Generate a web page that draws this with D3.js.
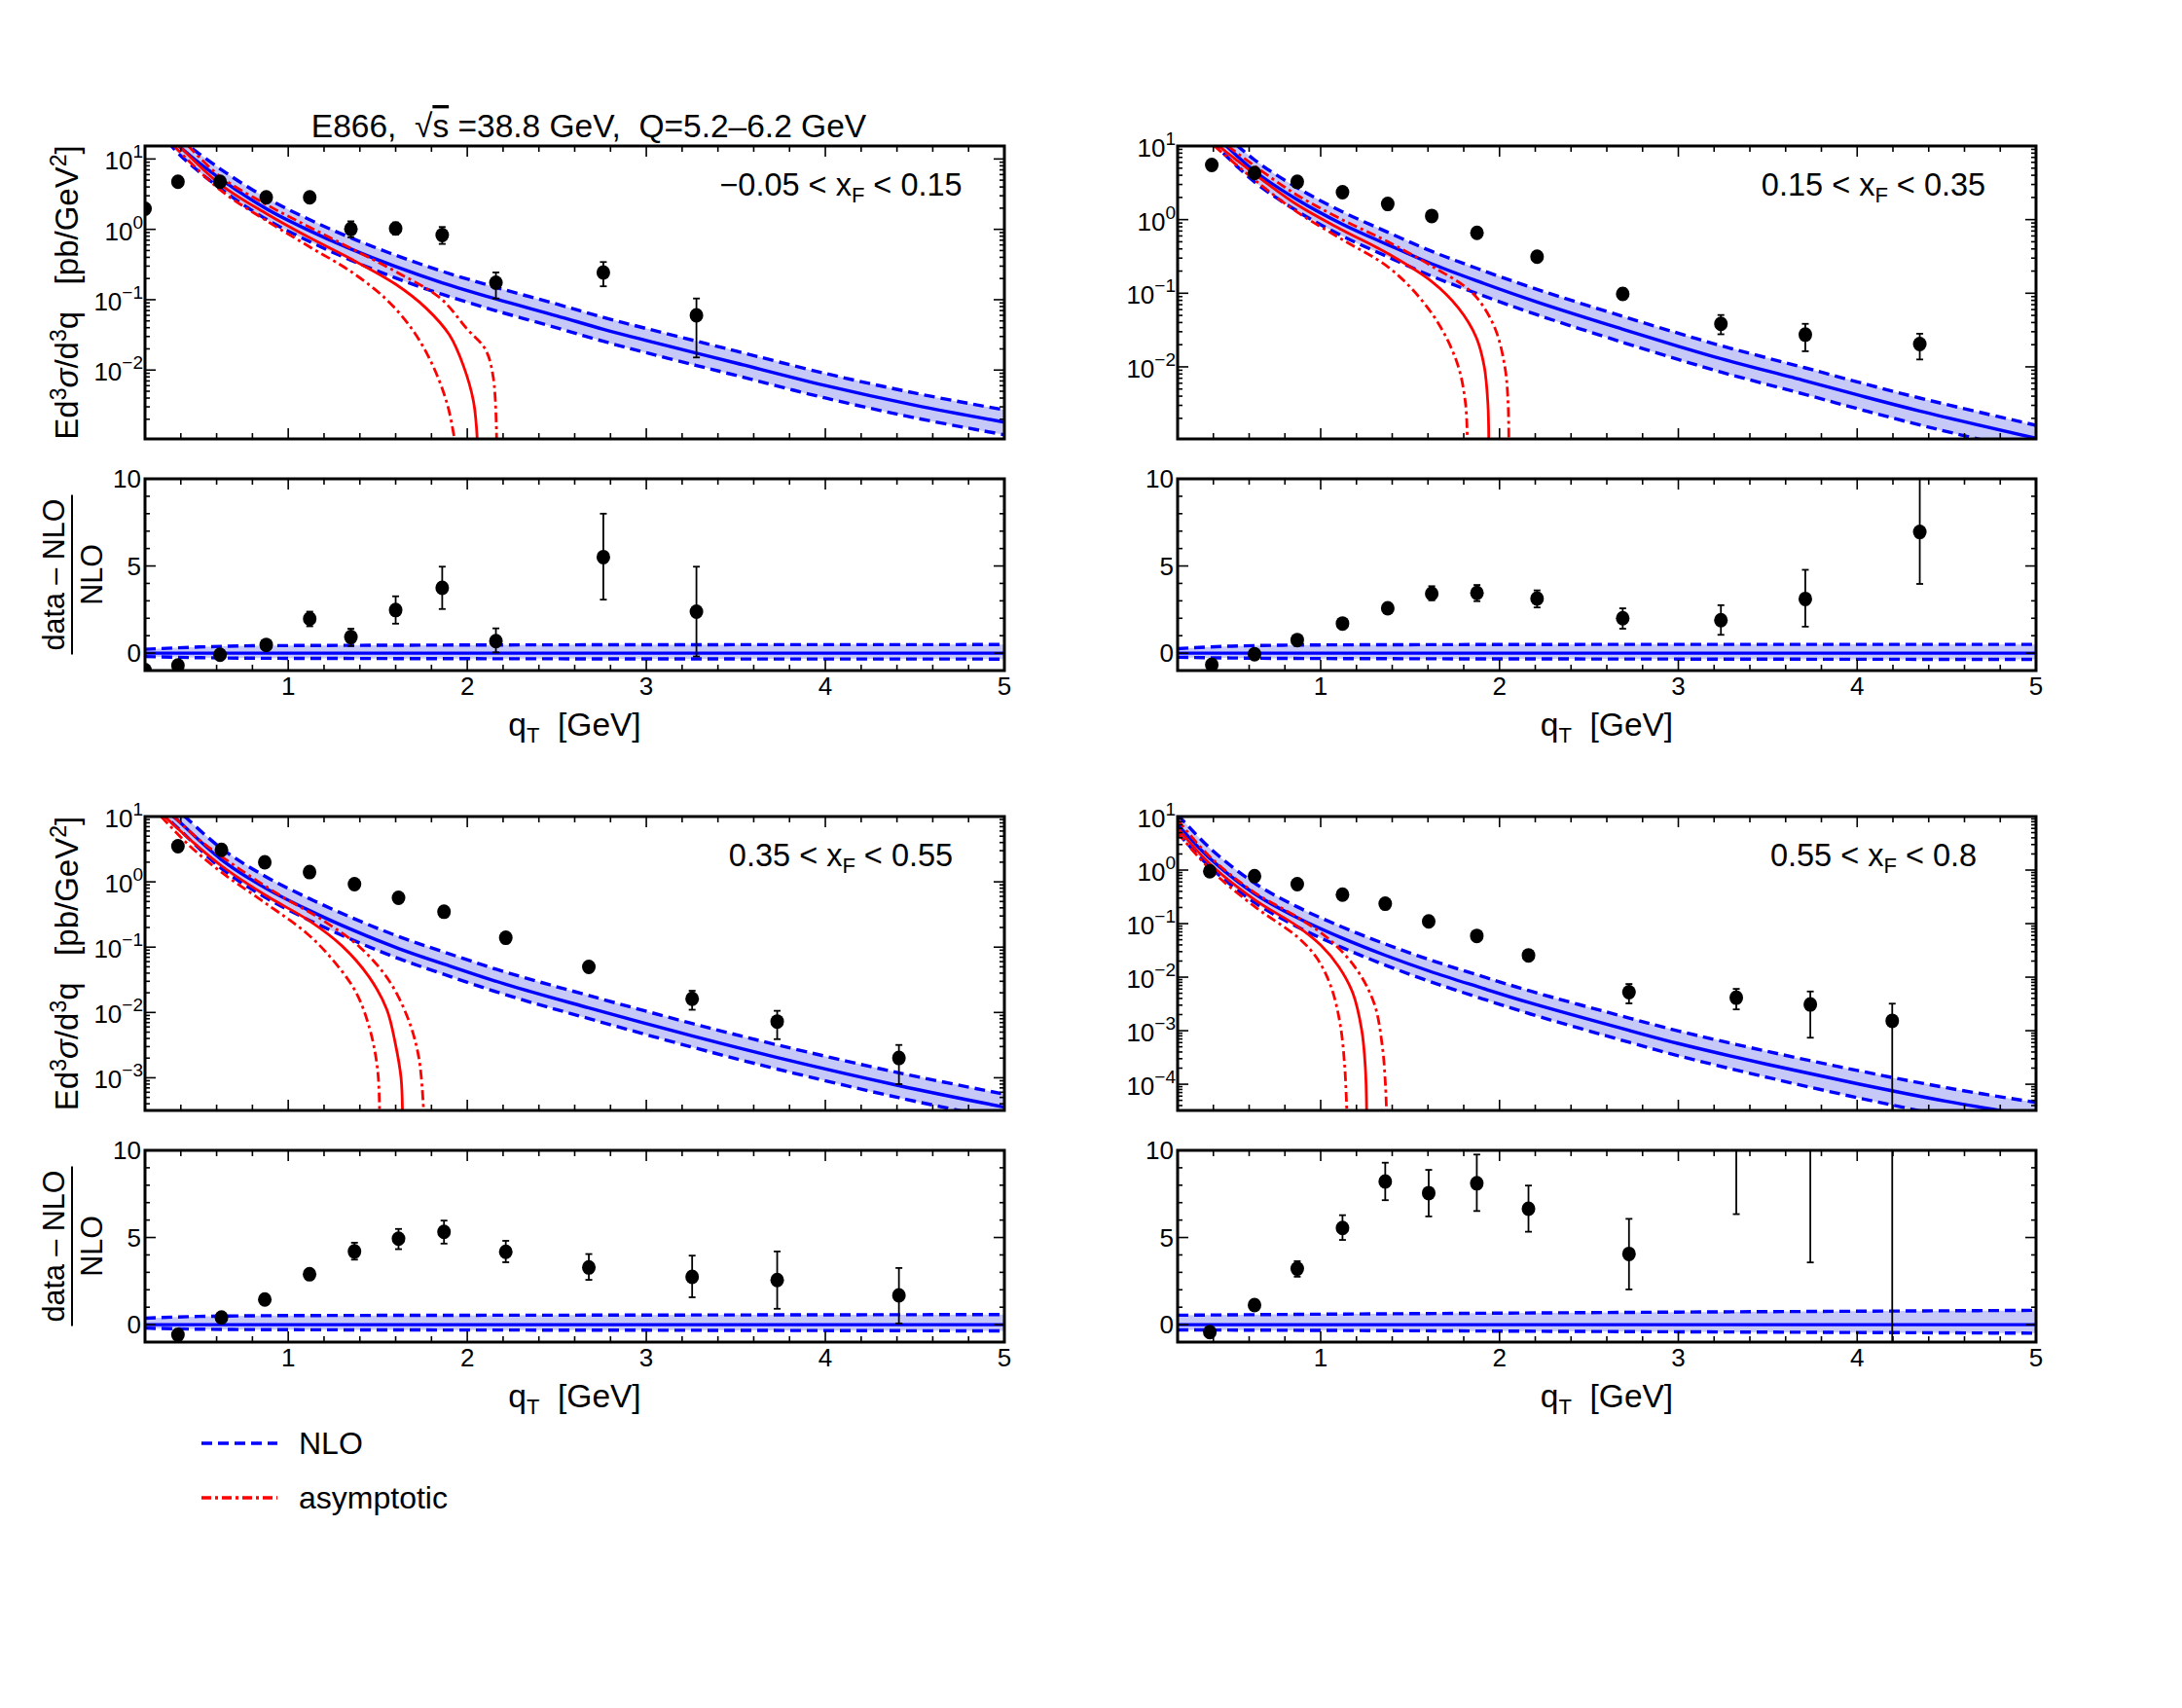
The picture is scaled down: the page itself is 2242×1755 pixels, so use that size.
<!DOCTYPE html>
<html>
<head>
<meta charset="utf-8">
<script src="https://cdn.jsdelivr.net/npm/d3@7"></script>
<style>
  body { margin: 0; background: #fff; }
  text { white-space: pre; }
</style>
</head>
<body>
<svg id="chart"></svg>
<script>
const width = 2242
const height = 1755

const qtDomain = [0.2, 5]
const ratioDomain = [-1, 10]
const ratioMajor = [0, 5, 10]

// ---------- -0.05 < xF < 0.15
const tlQt = [0.2, 0.384, 0.619, 0.877, 1.12, 1.35, 1.60, 1.86, 2.16, 2.76, 3.28]
const tlSigma = [1.96, 4.74, 4.74, 2.85, 2.85, 1.01, 1.03, 0.83, 0.174, 0.244, 0.060]
const tlSigmaLo = [1.85, 4.5, 4.5, 2.7, 2.7, 0.77, 0.84, 0.62, 0.104, 0.155, 0.0151]
const tlSigmaHi = [2.07, 5.0, 5.0, 3.0, 3.0, 1.30, 1.25, 1.08, 0.244, 0.343, 0.104]
const tlRatio = [-0.97, -0.71, -0.09, 0.47, 1.97, 0.92, 2.47, 3.75, 0.69, 5.51, 2.38]
const tlRatioLo = [-1.0, -0.75, -0.14, 0.4, 1.54, 0.41, 1.69, 2.53, 0.04, 3.07, -0.19]
const tlRatioHi = [-0.94, -0.67, -0.04, 0.55, 2.38, 1.40, 3.26, 4.96, 1.42, 8.0, 4.96]
const tlNloLog = [[0.33, 1.36], [0.38, 1.21], [0.62, 0.72], [0.88, 0.29], [1.12, -0.02], [1.35, -0.28], [1.6, -0.53], [1.86, -0.76], [2.16, -0.99], [2.5, -1.23], [2.76, -1.42], [3.0, -1.58], [3.28, -1.76], [3.5, -1.9], [4.0, -2.22], [4.5, -2.5], [5.0, -2.74]]
const tlBandQt = [0.2, 0.5, 0.8, 1.5, 3, 5]
const tlBandUp = [0.22, 0.35, 0.42, 0.45, 0.48, 0.49]
const tlBandDn = [-0.2, -0.26, -0.29, -0.31, -0.33, -0.34]
const tlAsymLog = [[0.39, 1.19], [0.62, 0.64], [0.88, 0.22], [1.12, -0.12], [1.35, -0.42], [1.6, -0.78], [1.77, -1.12], [1.9, -1.5], [1.98, -1.95], [2.035, -2.45], [2.056, -3.0]]
const tlAsymLoLog = [[0.36, 1.19], [0.62, 0.56], [0.88, 0.12], [1.12, -0.25], [1.35, -0.6], [1.55, -1.0], [1.7, -1.45], [1.81, -1.95], [1.89, -2.5], [1.93, -3.0]]
const tlAsymHiLog = [[0.44, 1.19], [0.62, 0.75], [0.88, 0.35], [1.12, 0.03], [1.35, -0.27], [1.6, -0.6], [1.85, -0.98], [2.0, -1.42], [2.1, -1.7], [2.145, -2.1], [2.164, -3.0]]

// ---------- 0.15 < xF < 0.35
const trQt = [0.391, 0.63, 0.869, 1.122, 1.375, 1.621, 1.874, 2.21, 2.689, 3.238, 3.71, 4.35]
const trSigma = [5.53, 4.29, 3.26, 2.36, 1.63, 1.12, 0.66, 0.313, 0.098, 0.0384, 0.0274, 0.0204]
const trSigmaLo = [5.3, 4.1, 3.1, 2.25, 1.55, 1.06, 0.62, 0.29, 0.083, 0.0277, 0.0163, 0.0126]
const trSigmaHi = [5.8, 4.5, 3.4, 2.47, 1.71, 1.18, 0.70, 0.335, 0.116, 0.0506, 0.0384, 0.0282]
const trRatio = [-0.67, -0.06, 0.75, 1.70, 2.57, 3.41, 3.45, 3.13, 2.0, 1.89, 3.11, 6.95]
const trRatioLo = [-0.7, -0.1, 0.7, 1.62, 2.48, 3.03, 2.98, 2.62, 1.40, 1.05, 1.52, 3.97]
const trRatioHi = [-0.64, -0.02, 0.8, 1.78, 2.66, 3.84, 3.91, 3.60, 2.57, 2.75, 4.78, 10.2]
const trNloLog = [[0.33, 1.36], [0.39, 1.2], [0.63, 0.66], [0.87, 0.27], [1.12, -0.06], [1.375, -0.34], [1.62, -0.6], [1.87, -0.83], [2.21, -1.12], [2.69, -1.49], [3.0, -1.72], [3.24, -1.89], [3.71, -2.19], [4.0, -2.38], [4.35, -2.6], [5.0, -2.97]]
const trBandQt = [0.2, 0.5, 1, 3, 5]
const trBandUp = [0.26, 0.4, 0.47, 0.5, 0.5]
const trBandDn = [-0.24, -0.28, -0.31, -0.34, -0.36]
const trAsymLog = [[0.43, 1.0], [0.63, 0.62], [0.87, 0.2], [1.12, -0.14], [1.375, -0.46], [1.62, -0.84], [1.77, -1.2], [1.87, -1.6], [1.915, -2.0], [1.935, -2.5], [1.94, -3.0]]
const trAsymLoLog = [[0.405, 1.0], [0.63, 0.54], [0.87, 0.1], [1.12, -0.27], [1.375, -0.64], [1.55, -1.05], [1.68, -1.5], [1.77, -2.0], [1.81, -2.5], [1.82, -3.0]]
const trAsymHiLog = [[0.48, 1.0], [0.63, 0.73], [0.87, 0.33], [1.12, 0.0], [1.375, -0.3], [1.62, -0.63], [1.85, -1.0], [1.97, -1.45], [2.03, -2.0], [2.048, -2.5], [2.052, -3.0]]

// ---------- 0.35 < xF < 0.55
const blQt = [0.384, 0.627, 0.869, 1.119, 1.37, 1.616, 1.87, 2.215, 2.679, 3.256, 3.731, 4.411]
const blSigma = [3.52, 3.08, 1.99, 1.41, 0.92, 0.57, 0.348, 0.139, 0.0498, 0.0162, 0.00726, 0.00201]
const blSigmaLo = [3.4, 2.95, 1.9, 1.35, 0.88, 0.545, 0.33, 0.13, 0.046, 0.0110, 0.0039, 0.00080]
const blSigmaHi = [3.65, 3.2, 2.08, 1.47, 0.96, 0.595, 0.366, 0.148, 0.054, 0.0215, 0.0106, 0.00318]
const blRatio = [-0.58, 0.41, 1.44, 2.89, 4.2, 4.93, 5.32, 4.18, 3.28, 2.74, 2.56, 1.68]
const blRatioLo = [-0.62, 0.35, 1.38, 2.8, 3.73, 4.33, 4.65, 3.58, 2.57, 1.57, 0.91, 0.07]
const blRatioHi = [-0.54, 0.47, 1.5, 2.98, 4.7, 5.49, 5.97, 4.81, 4.05, 3.96, 4.2, 3.25]
const blNloLog = [[0.28, 1.2], [0.33, 1.07], [0.384, 0.94], [0.627, 0.34], [0.869, -0.09], [1.119, -0.44], [1.37, -0.75], [1.616, -1.02], [1.87, -1.26], [2.215, -1.57], [2.679, -1.93], [3.256, -2.36], [3.731, -2.69], [4.411, -3.12], [5.0, -3.45]]
const blBandQt = [0.2, 0.5, 1, 3, 5]
const blBandUp = [0.37, 0.47, 0.52, 0.55, 0.58]
const blBandDn = [-0.2, -0.26, -0.29, -0.32, -0.36]
const blAsymLog = [[0.31, 1.0], [0.45, 0.65], [0.63, 0.24], [0.87, -0.2], [1.12, -0.6], [1.3, -0.98], [1.45, -1.45], [1.55, -1.95], [1.6, -2.5], [1.63, -3.0], [1.638, -3.5]]
const blAsymLoLog = [[0.29, 1.0], [0.45, 0.55], [0.63, 0.14], [0.87, -0.32], [1.1, -0.78], [1.25, -1.2], [1.38, -1.7], [1.46, -2.3], [1.5, -2.9], [1.51, -3.5]]
const blAsymHiLog = [[0.36, 1.0], [0.5, 0.65], [0.7, 0.25], [0.95, -0.2], [1.2, -0.6], [1.4, -1.0], [1.56, -1.5], [1.67, -2.1], [1.73, -2.7], [1.756, -3.5]]

// ---------- 0.55 < xF < 0.8
const brQt = [0.38, 0.63, 0.869, 1.122, 1.361, 1.604, 1.873, 2.162, 2.724, 3.324, 3.738, 4.196]
const brSigma = [0.95, 0.77, 0.545, 0.348, 0.235, 0.11, 0.059, 0.0255, 0.00525, 0.00414, 0.00309, 0.00153]
const brSigmaLo = [0.92, 0.745, 0.525, 0.335, 0.226, 0.105, 0.056, 0.024, 0.00324, 0.0025, 0.00074, 0.00001]
const brSigmaHi = [0.98, 0.795, 0.565, 0.361, 0.244, 0.115, 0.062, 0.027, 0.00745, 0.00604, 0.0054, 0.0032]
const brRatio = [-0.43, 1.12, 3.21, 5.55, 8.21, 7.55, 8.11, 6.65, 4.06, 12.1, 18.9, 19.7]
const brRatioLo = [-0.47, 1.05, 2.75, 4.86, 7.14, 6.21, 6.52, 5.33, 2.02, 6.34, 3.57, -3]
const brRatioHi = [-0.39, 1.2, 3.64, 6.28, 9.29, 8.88, 9.76, 7.98, 6.07, 18, 34, 42]
const brNloLog = [[0.2, 0.85], [0.38, 0.22], [0.63, -0.44], [0.87, -0.89], [1.12, -1.27], [1.36, -1.59], [1.61, -1.89], [1.88, -2.18], [2.17, -2.48], [2.73, -3.0], [3.0, -3.24], [3.5, -3.63], [4.0, -3.99], [4.5, -4.32], [5.0, -4.6]]
const brBandQt = [0.2, 1, 2, 3, 4, 5]
const brBandUp = [0.54, 0.6, 0.66, 0.72, 0.77, 0.82]
const brBandDn = [-0.3, -0.33, -0.37, -0.41, -0.45, -0.49]
const brAsymLog = [[0.2, 0.79], [0.38, 0.12], [0.63, -0.55], [0.87, -1.05], [1.0, -1.4], [1.1, -1.8], [1.18, -2.3], [1.23, -3.0], [1.25, -3.7], [1.257, -4.5]]
const brAsymLoLog = [[0.2, 0.7], [0.38, 0.02], [0.63, -0.68], [0.87, -1.25], [0.98, -1.65], [1.06, -2.2], [1.11, -2.9], [1.135, -3.7], [1.146, -4.5]]
const brAsymHiLog = [[0.2, 0.94], [0.38, 0.25], [0.63, -0.42], [0.87, -0.88], [1.05, -1.3], [1.2, -1.85], [1.3, -2.5], [1.345, -3.3], [1.362, -4.0], [1.368, -4.5]]

const blue = '#0000ff'
const red = '#ff0000'
const bandFill = 'rgb(198,200,248)'
const font = '"Liberation Sans",Arial,Helvetica,sans-serif'
const curve = d3.curveCatmullRom.alpha(0.5)

const panels = [
  {id: 'tl', left: 149, right: 1032, top: 150, mid: 451, rTop: 492, bottom: 689,
   yDomain: [1.05e-3, 15.3], decades: [1e-2, 1e-1, 1, 10], label: ['\u22120.05 < x', 'F', ' < 0.15'], titles: true,
   qt: tlQt, sigma: tlSigma, sigmaLo: tlSigmaLo, sigmaHi: tlSigmaHi, ratio: tlRatio, ratioLo: tlRatioLo, ratioHi: tlRatioHi,
   nlo: tlNloLog, bandQt: tlBandQt, bandUp: tlBandUp, bandDn: tlBandDn, asym: [tlAsymLog, tlAsymLoLog, tlAsymHiLog]},
  {id: 'tr', left: 1210, right: 2092, top: 150, mid: 451, rTop: 492, bottom: 689,
   yDomain: [1.05e-3, 10], decades: [1e-2, 1e-1, 1, 10], label: ['0.15 < x', 'F', ' < 0.35'], titles: false,
   qt: trQt, sigma: trSigma, sigmaLo: trSigmaLo, sigmaHi: trSigmaHi, ratio: trRatio, ratioLo: trRatioLo, ratioHi: trRatioHi,
   nlo: trNloLog, bandQt: trBandQt, bandUp: trBandUp, bandDn: trBandDn, asym: [trAsymLog, trAsymLoLog, trAsymHiLog]},
  {id: 'bl', left: 149, right: 1032, top: 839, mid: 1141, rTop: 1182, bottom: 1379,
   yDomain: [3.16e-4, 10], decades: [1e-3, 1e-2, 1e-1, 1, 10], label: ['0.35 < x', 'F', ' < 0.55'], titles: true,
   qt: blQt, sigma: blSigma, sigmaLo: blSigmaLo, sigmaHi: blSigmaHi, ratio: blRatio, ratioLo: blRatioLo, ratioHi: blRatioHi,
   nlo: blNloLog, bandQt: blBandQt, bandUp: blBandUp, bandDn: blBandDn, asym: [blAsymLog, blAsymLoLog, blAsymHiLog]},
  {id: 'br', left: 1210, right: 2092, top: 839, mid: 1141, rTop: 1182, bottom: 1379,
   yDomain: [3.24e-5, 10], decades: [1e-4, 1e-3, 1e-2, 1e-1, 1, 10], label: ['0.55 < x', 'F', ' < 0.8'], titles: false,
   qt: brQt, sigma: brSigma, sigmaLo: brSigmaLo, sigmaHi: brSigmaHi, ratio: brRatio, ratioLo: brRatioLo, ratioHi: brRatioHi,
   nlo: brNloLog, bandQt: brBandQt, bandUp: brBandUp, bandDn: brBandDn, asym: [brAsymLog, brAsymLoLog, brAsymHiLog]}
]

const svg = d3.select('#chart').attr('width', width).attr('height', height)
  .attr('font-family', font)
const defs = svg.append('defs')

function clipRect(id, x0, y0, x1, y1) {
  defs.append('clipPath').attr('id', id).append('rect')
    .attr('x', x0).attr('y', y0).attr('width', x1 - x0).attr('height', y1 - y0)
  return `url(#${id})`
}

// ticks on all four sides, pointing inward
function frame(g, x, y, yMajorTest, yTicks) {
  const [x0, x1] = x.range()
  const [yb, yt] = y.range()
  const ax = g.append('g').attr('stroke', '#000').attr('fill', 'none')
  const qtTicks = d3.range(2, 51, 2).map(d => d / 10)
  qtTicks.forEach(t => {
    const len = Number.isInteger(t) ? 11 : 6
    ax.append('line').attr('x1', x(t)).attr('x2', x(t)).attr('y1', yb).attr('y2', yb - len).attr('stroke-width', 1.6)
    ax.append('line').attr('x1', x(t)).attr('x2', x(t)).attr('y1', yt).attr('y2', yt + len).attr('stroke-width', 1.6)
  })
  yTicks.forEach(t => {
    const len = yMajorTest(t) ? 11 : 5
    ax.append('line').attr('x1', x0).attr('x2', x0 + len).attr('y1', y(t)).attr('y2', y(t)).attr('stroke-width', 1.6)
    ax.append('line').attr('x1', x1).attr('x2', x1 - len).attr('y1', y(t)).attr('y2', y(t)).attr('stroke-width', 1.6)
  })
  ax.append('rect').attr('x', x0).attr('y', yt).attr('width', x1 - x0).attr('height', yb - yt).attr('stroke-width', 3)
}

function points(g, x, y, qt, val, lo, hi) {
  const pts = qt.map((q, i) => ({q, v: val[i], lo: lo[i], hi: hi[i]}))
  const eb = g.append('g').attr('stroke', '#000').attr('stroke-width', 1.8)
  pts.forEach(d => {
    eb.append('line').attr('x1', x(d.q)).attr('x2', x(d.q)).attr('y1', y(d.lo)).attr('y2', y(d.hi))
    eb.append('line').attr('x1', x(d.q) - 3.5).attr('x2', x(d.q) + 3.5).attr('y1', y(d.lo)).attr('y2', y(d.lo))
    eb.append('line').attr('x1', x(d.q) - 3.5).attr('x2', x(d.q) + 3.5).attr('y1', y(d.hi)).attr('y2', y(d.hi))
  })
  g.selectAll(null).data(pts).enter().append('ellipse')
    .attr('cx', d => x(d.q)).attr('cy', d => y(d.v)).attr('rx', 7).attr('ry', 7.5).attr('fill', '#000')
}

function drawPanel(p) {
  const x = d3.scaleLinear().domain(qtDomain).range([p.left, p.right])
  const y = d3.scaleLog().domain(p.yDomain).range([p.mid, p.top])
  const r = d3.scaleLinear().domain(ratioDomain).range([p.bottom, p.rTop])
  const up = d3.scaleLinear().domain(p.bandQt).range(p.bandUp)
  const dn = d3.scaleLinear().domain(p.bandQt).range(p.bandDn)

  // ---------- upper: cross section
  const gu = svg.append('g').attr('clip-path', clipRect(`c-${p.id}-u`, p.left, p.top, p.right, p.mid))
  const nlo = p.nlo.map(([q, c]) => ({q, c, hi: c + Math.log10(1 + up(q)), lo: c + Math.log10(1 + dn(q))}))
  gu.append('path').datum(nlo).attr('fill', bandFill)
    .attr('d', d3.area().x(d => x(d.q)).y0(d => y(10 ** d.lo)).y1(d => y(10 ** d.hi)).curve(curve))
  ;['lo', 'hi'].forEach(k => {
    gu.append('path').datum(nlo).attr('fill', 'none').attr('stroke', blue).attr('stroke-width', 3.4)
      .attr('stroke-dasharray', '11 6')
      .attr('d', d3.line().x(d => x(d.q)).y(d => y(10 ** d[k])).curve(curve))
  })
  gu.append('path').datum(nlo).attr('fill', 'none').attr('stroke', blue).attr('stroke-width', 3.4)
    .attr('d', d3.line().x(d => x(d.q)).y(d => y(10 ** d.c)).curve(curve))

  p.asym.forEach((pts, i) => {
    gu.append('path').datum(pts).attr('fill', 'none').attr('stroke', red).attr('stroke-width', 2.8)
      .attr('stroke-dasharray', i === 0 ? null : '10 4 3 4')
      .attr('d', d3.line().x(d => x(d[0])).y(d => y(10 ** d[1])).curve(curve))
  })
  points(gu, x, y, p.qt, p.sigma, p.sigmaLo, p.sigmaHi)

  const isDecade = t => Math.abs(Math.log10(t) - Math.round(Math.log10(t))) < 1e-6
  frame(svg.append('g'), x, y, isDecade, y.ticks().filter(t => t >= p.yDomain[0] && t <= p.yDomain[1]))

  const yl = svg.append('g').attr('font-size', 26).attr('text-anchor', 'end')
  p.decades.forEach(t => {
    const e = Math.round(Math.log10(t))
    const tx = yl.append('text').attr('x', p.left - 2).attr('y', y(t) + 11)
    tx.append('tspan').text('10')
    tx.append('tspan').attr('dy', -12).attr('font-size', 19).text(e < 0 ? '\u2212' + (-e) : String(e))
  })

  svg.append('text').attr('x', p.left + 715).attr('y', p.top + 51).attr('text-anchor', 'middle')
    .attr('font-size', 32.5)
    .call(t => {
      t.append('tspan').text(p.label[0])
      t.append('tspan').attr('dy', 7).attr('font-size', 22).text(p.label[1])
      t.append('tspan').attr('dy', -7).text(p.label[2])
    })

  // ---------- lower: (data - NLO) / NLO
  const gr = svg.append('g').attr('clip-path', clipRect(`c-${p.id}-r`, p.left, p.rTop, p.right, p.bottom))
  const band = p.bandQt.map((q, i) => ({q, up: p.bandUp[i], dn: p.bandDn[i]}))
  gr.append('path').datum(band).attr('fill', bandFill)
    .attr('d', d3.area().x(d => x(d.q)).y0(d => r(d.dn)).y1(d => r(d.up)).curve(d3.curveMonotoneX))
  ;['dn', 'up'].forEach(k => {
    gr.append('path').datum(band).attr('fill', 'none').attr('stroke', blue).attr('stroke-width', 3.4)
      .attr('stroke-dasharray', '11 6')
      .attr('d', d3.line().x(d => x(d.q)).y(d => r(d[k])).curve(d3.curveMonotoneX))
  })
  gr.append('path').datum(qtDomain).attr('fill', 'none').attr('stroke', blue).attr('stroke-width', 3.4)
    .attr('d', d3.line().x(d => x(d)).y(() => r(0)))
  points(gr, x, r, p.qt, p.ratio, p.ratioLo, p.ratioHi)

  frame(svg.append('g'), x, r, t => ratioMajor.includes(t), d3.range(-1, 11))

  const rl = svg.append('g').attr('font-size', 26)
  rl.selectAll(null).data(ratioMajor).enter().append('text')
    .attr('x', p.left - 4).attr('y', d => r(d) + 9).attr('text-anchor', 'end').text(d => d)
  rl.selectAll(null).data(d3.range(1, 6)).enter().append('text')
    .attr('x', d => x(d)).attr('y', p.bottom + 25).attr('text-anchor', 'middle').text(d => d)

  svg.append('text').attr('x', (p.left + p.right) / 2).attr('y', p.bottom + 67).attr('text-anchor', 'middle')
    .attr('font-size', 33.5)
    .call(t => {
      t.append('tspan').text('q')
      t.append('tspan').attr('dy', 7).attr('font-size', 22).text('T')
      t.append('tspan').attr('dy', -7).text('  [GeV]')
    })

  if (p.titles) {
    const cy = (p.top + p.mid) / 2
    svg.append('text').attr('transform', `translate(80,${cy}) rotate(-90)`).attr('text-anchor', 'middle')
      .attr('font-size', 33)
      .call(t => {
        t.append('tspan').text('Ed')
        t.append('tspan').attr('dy', -12).attr('font-size', 23).text('3')
        t.append('tspan').attr('dy', 12).attr('font-style', 'italic').text('\u03c3')
        t.append('tspan').text('/d')
        t.append('tspan').attr('dy', -12).attr('font-size', 23).text('3')
        t.append('tspan').attr('dy', 12).text('q   [pb/GeV')
        t.append('tspan').attr('dy', -12).attr('font-size', 23).text('2')
        t.append('tspan').attr('dy', 12).text(']')
      })
    const ry = (p.rTop + p.bottom) / 2
    svg.append('text').attr('transform', `translate(66,${ry}) rotate(-90)`).attr('text-anchor', 'middle')
      .attr('font-size', 30.5).text('data \u2013 NLO')
    svg.append('text').attr('transform', `translate(105,${ry}) rotate(-90)`).attr('text-anchor', 'middle')
      .attr('font-size', 30.5).text('NLO')
    svg.append('line').attr('x1', 74).attr('x2', 74).attr('y1', ry - 82).attr('y2', ry + 82)
      .attr('stroke', '#000').attr('stroke-width', 2)
  }
}

panels.forEach(drawPanel)

// title
svg.append('text').attr('x', 605).attr('y', 141).attr('text-anchor', 'middle')
  .attr('font-size', 33.5)
  .call(t => {
    t.append('tspan').text('E866,  \u221a')
    t.append('tspan').style('text-decoration', 'overline').text('s')
    t.append('tspan').text(' =38.8 GeV,  Q=5.2\u20136.2 GeV')
  })

// legend
const legend = svg.append('g').attr('font-size', 32)
const legendItems = [
  {name: 'NLO', color: blue, dash: '11 6', y: 1483},
  {name: 'asymptotic', color: red, dash: '10 4 3 4', y: 1539}
]
legendItems.forEach(d => {
  legend.append('line').attr('x1', 207).attr('x2', 285).attr('y1', d.y).attr('y2', d.y)
    .attr('stroke', d.color).attr('stroke-width', 3.4).attr('stroke-dasharray', d.dash)
  legend.append('text').attr('x', 307).attr('y', d.y + 11).text(d.name)
})
</script>
</body>
</html>
